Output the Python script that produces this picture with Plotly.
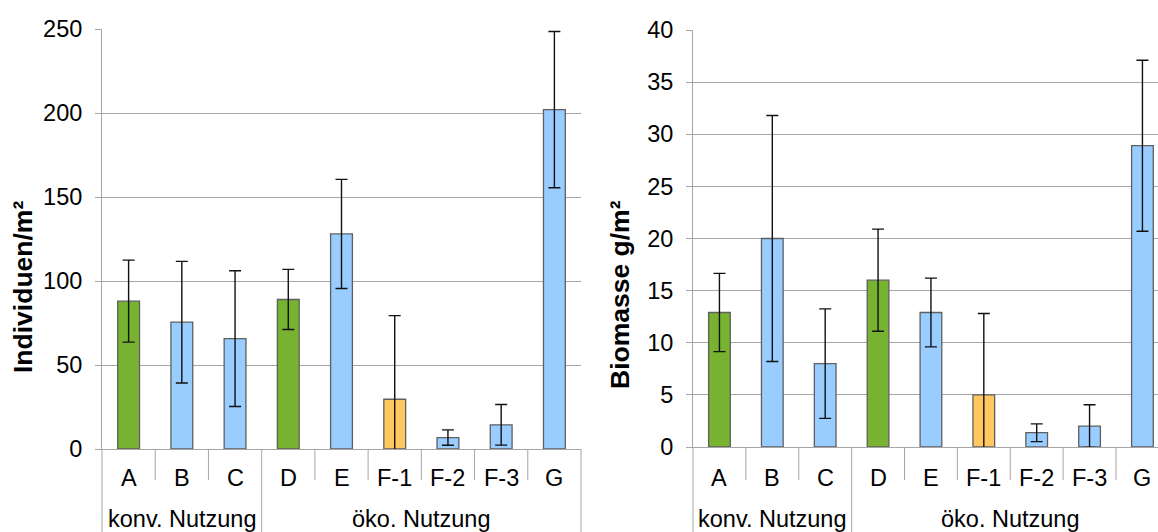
import plotly.graph_objects as go

W, H = 1158, 532

categories = ["A", "B", "C", "D", "E", "F-1", "F-2", "F-3", "G"]
groups = ["konv. Nutzung", "öko. Nutzung"]
group_sizes = [3, 6]
bar_colors = ["#77b230", "#99ccff", "#99ccff", "#77b230", "#99ccff",
              "#ffc95f", "#99ccff", "#99ccff", "#99ccff"]

individuen = [88, 75.5, 65.7, 89, 128, 29.6, 6.8, 14.4, 202]
individuen_err = [24.4, 36.2, 40.4, 17.9, 32.5, 49.8, 4.6, 12.1, 46.5]

biomasse = [12.9, 20, 8.0, 16.0, 12.9, 5.0, 1.37, 2.0, 28.9]
biomasse_err = [3.75, 11.8, 5.25, 4.9, 3.3, 7.8, 0.85, 2.05, 8.2]

left_ticks = [0, 50, 100, 150, 200, 250]
right_ticks = [0, 5, 10, 15, 20, 25, 30, 35, 40]

FONT = "Liberation Sans, Arial, sans-serif"
GRID = "#a6a6a6"

fig = go.Figure()

def bar_trace(vals, errs, xa, ya):
    return go.Bar(
        x=categories, y=vals, xaxis=xa, yaxis=ya, width=0.41,
        marker=dict(color=bar_colors, line=dict(color="#5f5f5f", width=1.3)),
        error_y=dict(type="data", array=errs, visible=True,
                     color="#111111", thickness=1.4, width=6),
        showlegend=False, hoverinfo="skip")

fig.add_trace(bar_trace(individuen, individuen_err, "x", "y"))
fig.add_trace(bar_trace(biomasse, biomasse_err, "x2", "y2"))

# pixel geometry
L_x0, L_x1, L_y0, L_y1 = 102, 581, 449, 29
R_x0, R_x1, R_y0, R_y1 = 693, 1158, 447, 30
cat_w_right = (1116 - 693) / 8.0
right_max = -0.5 + (R_x1 - R_x0) / cat_w_right

def px_x(p): return p / W
def px_y(p): return (H - p) / H

common_x = dict(type="category", categoryorder="array", categoryarray=categories,
                showticklabels=False, ticks="", showgrid=False, zeroline=False,
                showline=True, linecolor=GRID, linewidth=1, fixedrange=True,
                automargin=False)
common_y = dict(showgrid=True, gridcolor=GRID, gridwidth=1, zeroline=False,
                showline=True, linecolor=GRID, linewidth=1,
                ticks="outside", ticklen=6, tickcolor=GRID, tickwidth=1,
                tickfont=dict(family=FONT, size=23.5, color="#000000"),
                ticklabelstandoff=8, fixedrange=True, automargin=False)

fig.update_layout(
    template="none",
    width=W, height=H, margin=dict(l=0, r=0, t=0, b=0, pad=0, autoexpand=False),
    paper_bgcolor="white", plot_bgcolor="white",
    font=dict(family=FONT, color="#000000"),
    bargap=0,
    xaxis=dict(common_x, domain=[px_x(L_x0), px_x(L_x1)], range=[-0.5, 8.5], anchor="y"),
    yaxis=dict(common_y, domain=[px_y(L_y0), px_y(L_y1)], range=[0, 250],
               tickvals=left_ticks, anchor="x"),
    xaxis2=dict(common_x, domain=[px_x(R_x0), px_x(R_x1)], range=[-0.5, right_max], anchor="y2"),
    yaxis2=dict(common_y, domain=[px_y(R_y0), px_y(R_y1)], range=[0, 40],
                tickvals=right_ticks, anchor="x2"),
)

shapes = []
annotations = []

def add_axis_labels(xref, rng_max, y_axis_px, ylabel, title_x, title_y):
    n = len(categories)
    span = rng_max + 0.5
    group_bounds = [0]
    for s in group_sizes:
        group_bounds.append(group_bounds[-1] + s)
    for k in range(n + 1):
        frac = k / span
        if frac > 1.0001:
            continue
        is_group = k in group_bounds
        y_end = 0.0 if is_group else px_y(480)
        shapes.append(dict(type="line", xref=xref + " domain", yref="paper",
                           x0=frac, x1=frac, y0=px_y(y_axis_px), y1=y_end,
                           line=dict(color=GRID, width=1), layer="above"))
    for c in categories:
        annotations.append(dict(x=c, xref=xref, y=px_y(478), yref="paper",
                                text=c, showarrow=False, xanchor="center", yanchor="middle",
                                font=dict(family=FONT, size=23.5, color="#000000")))
    for gi, g in enumerate(groups):
        a, b = group_bounds[gi], group_bounds[gi + 1]
        center = (a + b) / 2.0 - 0.5
        annotations.append(dict(x=center, xref=xref, y=px_y(519), yref="paper",
                                text=g, showarrow=False, xanchor="center", yanchor="middle",
                                font=dict(family=FONT, size=23.5, color="#000000")))
    annotations.append(dict(x=px_x(title_x), xref="paper", y=px_y(title_y), yref="paper",
                            text="<b>" + ylabel + "</b>", textangle=-90, showarrow=False,
                            xanchor="center", yanchor="middle",
                            font=dict(family=FONT, size=26.5, color="#000000")))

add_axis_labels("x", 8.5, L_y0, "Individuen/m²", 23, 287)
add_axis_labels("x2", right_max, R_y0, "Biomasse g/m²", 620, 295)

fig.update_layout(shapes=shapes, annotations=annotations)

fig.write_html(
    "out.html",
    config={"displayModeBar": False, "staticPlot": True},
    post_script="document.body.style.margin='0';document.body.style.padding='0';"
                "document.body.style.overflow='hidden';",
)
